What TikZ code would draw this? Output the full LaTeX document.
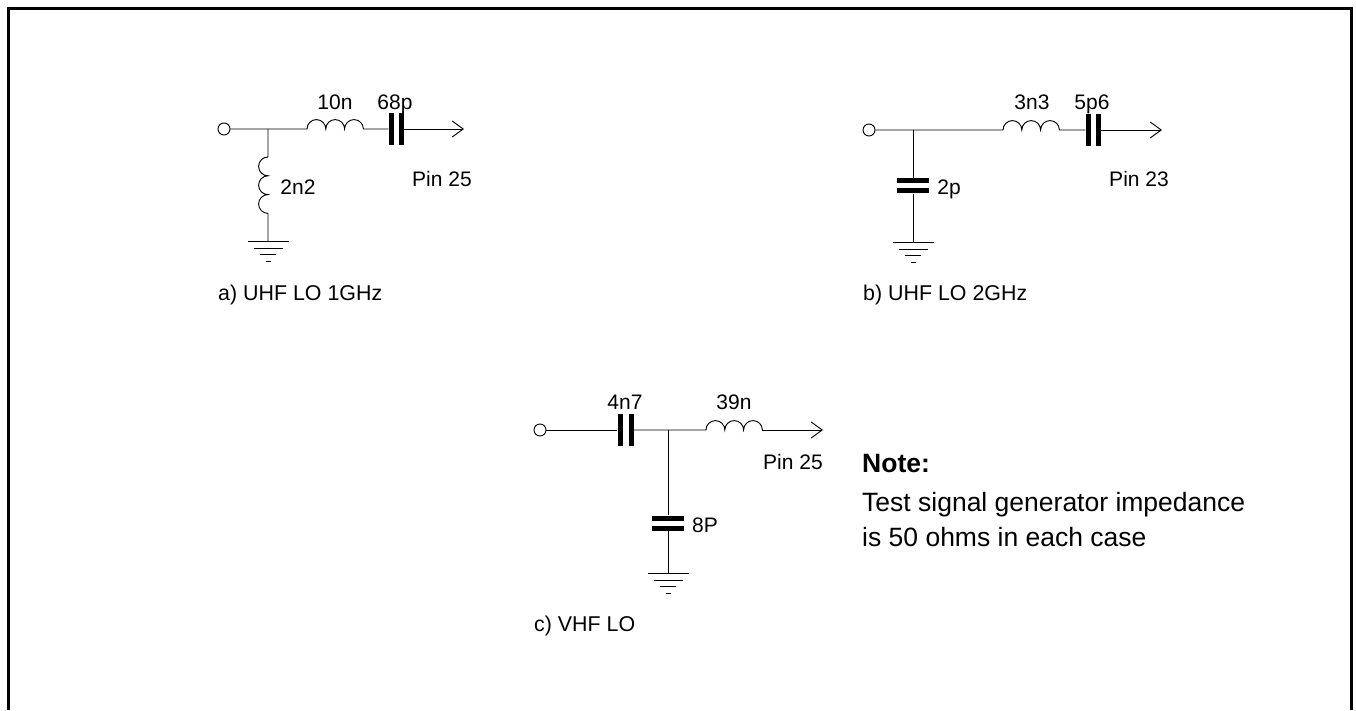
\documentclass[tikz,border=0pt]{standalone}
\usepackage{fontspec}
\setmainfont{Liberation Sans}
\usetikzlibrary{arrows.meta}
\tikzset{
  wire/.style={line width=0.95pt},
  terminal/.style={circle,draw,line width=0.95pt,fill=white,minimum size=12pt,inner sep=0pt},
  vplate/.style={fill=black,minimum width=5pt,minimum height=32pt,inner sep=0pt},
  hplate/.style={fill=black,minimum width=32pt,minimum height=5pt,inner sep=0pt},
  lbl/.style={font=\fontsize{21}{25}\selectfont,inner sep=0pt,anchor=base},
  caption/.style={font=\fontsize{21.4}{25}\selectfont,inner sep=0pt,anchor=base west},
  notetext/.style={font=\fontsize{26.5}{30}\selectfont,inner sep=0pt,anchor=base west},
  outarrow/.style={wire,-{Straight Barb[length=11pt,width=16pt]}}
}
\newcommand{\hcoil}{arc[start angle=180,end angle=0,radius=9.4pt] arc[start angle=180,end angle=0,radius=9.4pt] arc[start angle=180,end angle=0,radius=9.4pt]}
\newcommand{\vcoil}{arc[start angle=90,end angle=270,radius=9.4pt] arc[start angle=90,end angle=270,radius=9.4pt] arc[start angle=90,end angle=270,radius=9.4pt]}
\newcommand{\gnd}[1]{
  \draw[wire] ([xshift=-20.5pt]#1) -- ([xshift=20.5pt]#1);
  \draw[wire] ([xshift=-14.5pt,yshift=-7pt]#1) -- ([xshift=14.5pt,yshift=-7pt]#1);
  \draw[wire] ([xshift=-8pt,yshift=-13.5pt]#1) -- ([xshift=8pt,yshift=-13.5pt]#1);
  \draw[wire] ([xshift=-2.5pt,yshift=-20pt]#1) -- ([xshift=2.5pt,yshift=-20pt]#1);
}
\begin{document}
\begin{tikzpicture}[x=1pt,y=1pt]
\useasboundingbox (0,0) rectangle (1356,710);
% Outer frame, open at the bottom
\draw[line width=3pt] (8.5,0) -- (8.5,701.5) -- (1351,701.5) -- (1351,0);

% a) UHF LO 1GHz
\node[terminal] (ina) at (224,581) {};
\coordinate (ja) at (268,581);
\coordinate (la) at (307,581);
\node[vplate] (caa) at (391,581) {};
\node[vplate] (cab) at (401,581) {};
\coordinate (outa) at (464,581);
\coordinate (lva) at (268,553);
\coordinate (gnda) at (268,469);
\draw[wire] (ina) -- (ja) -- (la) \hcoil -- (caa);
\draw[outarrow] (cab) -- (outa);
\draw[wire] (ja) -- (lva) \vcoil -- (gnda);
\gnd{gnda}
\node[lbl] (la1) at (335,600.5) {10n};
\node[lbl] (ca1) at (395,600.5) {68p};
\node[lbl] (pina) at (442,523.5) {Pin 25};
\node[lbl] (lb1) at (298,515.5) {2n2};
\node[caption] (capa) at (218,409.5) {a) UHF LO 1GHz};

% b) UHF LO 2GHz
\node[terminal] (inb) at (869,580) {};
\coordinate (jb) at (913,580);
\coordinate (lb) at (1003,580);
\node[vplate] (cba) at (1088,580) {};
\node[vplate] (cbb) at (1098,580) {};
\coordinate (outb) at (1162,580);
\node[hplate] (cbc) at (913,529) {};
\node[hplate] (cbd) at (913,519) {};
\coordinate (gndb) at (913,468);
\draw[wire] (inb) -- (lb) \hcoil -- (cba);
\draw[outarrow] (cbb) -- (outb);
\draw[wire] (jb) -- (cbc);
\draw[wire] (cbd) -- (gndb);
\gnd{gndb}
\node[lbl] (lb2) at (1032,600) {3n3};
\node[lbl] (cb2) at (1092,600) {5p6};
\node[lbl] (pinb) at (1139,523) {Pin 23};
\node[lbl] (cb3) at (949,515) {2p};
\node[caption] (capb) at (863,409.5) {b) UHF LO 2GHz};

% c) VHF LO
\node[terminal] (inc) at (540,280) {};
\node[vplate] (cca) at (620,280) {};
\node[vplate] (ccb) at (631,280) {};
\coordinate (jc) at (668,280);
\coordinate (lc) at (706,280);
\coordinate (lce) at (762.4,280);
\coordinate (outc) at (823,280);
\node[hplate] (ccc) at (668,192) {};
\node[hplate] (ccd) at (668,182) {};
\coordinate (gndc) at (668,137);
\draw[wire] (inc) -- (cca);
\draw[wire] (ccb) -- (jc) -- (lc) \hcoil;
\draw[outarrow] (lce) -- (outc);
\draw[wire] (jc) -- (ccc);
\draw[wire] (ccd) -- (gndc);
\gnd{gndc}
\node[lbl] (cc1) at (625,300.5) {4n7};
\node[lbl] (lc1) at (734,300.5) {39n};
\node[lbl] (pinc) at (793,241) {Pin 25};
\node[lbl] (cc2) at (705,178) {8P};
\node[caption] (capc) at (534,78.5) {c) VHF LO};

% Note
\node[notetext,font=\fontsize{26.5}{30}\selectfont\bfseries] (note) at (862,237.5) {Note:};
\node[notetext] (notea) at (862,199) {Test signal generator impedance};
\node[notetext] (noteb) at (862,164) {is 50 ohms in each case};
\end{tikzpicture}
\end{document}
